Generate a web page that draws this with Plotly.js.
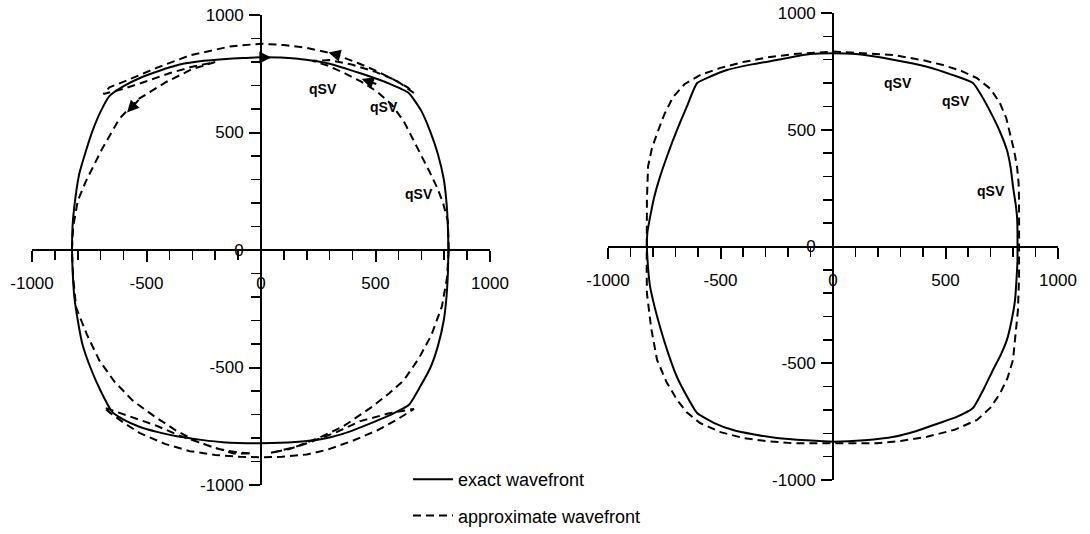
<!DOCTYPE html>
<html>
<head>
<meta charset="utf-8">
<script src="https://cdn.plot.ly/plotly-3.0.1.min.js"></script>
<style>html,body{margin:0;padding:0;background:#fff;}#chart{width:1090px;height:534px;}</style>
</head>
<body>
<div id="chart"></div>
<script>
// ---- data ----
const tickVals = [-1000, -500, 0, 500, 1000];
const tickText = ['-1000', '-500', '0', '500', '1000'];
const seriesNames = ['exact wavefront', 'approximate wavefront'];
const waveLabel = 'qSV';

// left panel: exact wavefront (solid)
const exactL_x = [0,150,289,434,560,645,700,740,772,798,810,816,818,
  816,810,798,772,740,697,645,560,478,380,289,150,0,
  -167,-260,-355,-450,-531,-600,-649,-700,-745,-780,-800,-815,-822,-825,
  -823,-816,-794,-765,-737,-700,-662,-600,-531,-440,-355,-250,-167,-80,0];
const exactL_y = [820,815,795,752,708,668,592,502,410,302,202,102,0,
  -100,-200,-300,-410,-500,-578,-660,-704,-738,-775,-800,-817,-822,
  -818,-808,-795,-775,-752,-722,-690,-600,-500,-400,-300,-200,-100,0,
  100,178,322,420,504,590,655,697,731,764,789,805,812,817,820];

// left panel: approximate wavefront (dashed), one closed path with swallowtails
const approxL_x = [820,816,795,770,735,697,660,624,570,507,440,360,290,225,
  300,400,500,590,668,
  640,580,509,420,316,200,100,0,
  -136,-311,-456,-580,-662,-688,
  -600,-500,-400,-300,-200,
  -300,-412,-539,-618,-693,-765,-800,-820,-826,
  -820,-807,-760,-706,-640,-561,-470,-368,-280,-193,-100,-40,
  -120,-237,-355,-456,-540,-605,-686,
  -660,-600,-531,-420,-311,-200,-92,0,
  92,200,289,400,509,600,668,
  560,434,330,215,120,40,
  150,259,360,478,560,623,690,745,790,812,820];
const approxL_y = [0,123,200,264,335,406,480,547,620,674,715,755,785,805,
  808,788,758,722,668,
  692,725,760,797,835,860,872,878,
  866,828,775,724,692,664,
  686,718,752,780,800,
  770,716,640,559,432,292,210,100,0,
  -120,-246,-360,-470,-560,-640,-705,-770,-815,-845,-862,-866,
  -866,-830,-790,-748,-720,-700,-670,
  -692,-735,-778,-825,-856,-872,-880,-882,
  -880,-870,-850,-812,-767,-718,-676,
  -695,-728,-775,-818,-848,-864,
  -838,-797,-750,-672,-610,-555,-460,-360,-240,-120,0];

// right panel: exact wavefront (solid)
const exactR_x = [0,102,267,418,533,622,670,711,745,773,790,800,812,818,820,820,
  820,815,809,793,773,745,711,670,622,550,467,371,271,140,0,
  -120,-249,-350,-444,-530,-604,-650,-693,-735,-769,-795,-813,-822,-827,
  -825,-813,-795,-769,-740,-711,-680,-645,-604,-540,-471,-360,-249,-102,0];
const exactR_y = [828,824,800,770,734,700,630,555,485,413,335,256,180,126,60,0,
  -58,-150,-230,-320,-400,-465,-529,-610,-692,-730,-758,-790,-815,-830,-836,
  -830,-820,-805,-786,-755,-713,-640,-560,-450,-344,-250,-172,-90,0,
  60,126,210,298,380,456,530,610,700,730,756,780,799,824,828];

// right panel: approximate wavefront (dashed)
const approxR_x = [0,173,267,400,489,570,640,700,742,770,787,805,818,825,827,828,827,827,
  827,827,822,812,800,775,742,700,640,540,418,300,196,0,
  -173,-300,-400,-500,-591,-650,-693,-740,-782,-808,-827,-828,-827,
  -828,-827,-822,-805,-782,-750,-711,-660,-591,-500,-400,-290,-173,0];
const approxR_y = [835,826,820,798,777,752,721,675,614,550,484,410,342,270,199,120,56,0,
  -60,-130,-272,-380,-486,-565,-630,-690,-743,-785,-815,-833,-843,-843,
  -843,-833,-820,-795,-756,-710,-657,-580,-486,-350,-200,-100,0,
  100,199,342,420,484,565,640,695,734,765,790,810,824,835];

// ---- figure ----
const FONT = 'Liberation Sans, Arial, Helvetica, sans-serif';
const black = '#000000';

const solidLine = {color: black, width: 2, shape: 'spline', smoothing: 0.5};
const dashLine = {color: black, width: 2, dash: '8px,5px'};

const traces = [
  {x: exactL_x, y: exactL_y, xaxis: 'x', yaxis: 'y', mode: 'lines', line: solidLine,
   name: seriesNames[0], legendgroup: 'g1', showlegend: true, hoverinfo: 'skip'},
  {x: approxL_x, y: approxL_y, xaxis: 'x', yaxis: 'y', mode: 'lines', line: dashLine,
   name: seriesNames[1], legendgroup: 'g2', showlegend: true, hoverinfo: 'skip'},
  {x: exactR_x, y: exactR_y, xaxis: 'x2', yaxis: 'y2', mode: 'lines', line: solidLine,
   name: seriesNames[0], legendgroup: 'g1', showlegend: false, hoverinfo: 'skip'},
  {x: approxR_x, y: approxR_y, xaxis: 'x2', yaxis: 'y2', mode: 'lines', line: dashLine,
   name: seriesNames[1], legendgroup: 'g2', showlegend: false, hoverinfo: 'skip'}
];

function axisBase(extra) {
  return Object.assign({
    range: [-1000, 1000], autorange: false, fixedrange: true,
    showgrid: false, zeroline: false,
    showline: true, linecolor: black, linewidth: 2,
    tickmode: 'array', tickvals: tickVals, ticktext: tickText,
    ticks: 'outside', ticklen: 11, tickwidth: 2, tickcolor: black,
    minor: {dtick: 100, tick0: 0, ticks: 'outside', ticklen: 9, tickwidth: 1.5, tickcolor: black, showgrid: false},
    tickfont: {family: FONT, size: 17, color: black},
    anchor: 'free'
  }, extra);
}

const W = 1090, H = 534;
const px = v => v / W, py = v => (H - v) / H;
const qFont = {family: FONT, size: 14, color: black};

const layout = {
  width: W, height: H,
  margin: {l: 0, r: 0, t: 0, b: 0},
  paper_bgcolor: '#ffffff', plot_bgcolor: 'rgba(0,0,0,0)',
  font: {family: FONT, color: black},
  xaxis: axisBase({domain: [px(32), px(490)], position: py(250), ticklabelstandoff: 7}),
  yaxis: axisBase({domain: [py(485), py(15)], position: px(261), ticklabelstandoff: 2}),
  xaxis2: axisBase({domain: [px(608), px(1058)], position: py(247), ticklabelstandoff: 7}),
  yaxis2: axisBase({domain: [py(480), py(13)], position: px(833), ticklabelstandoff: 2}),
  showlegend: true,
  legend: {
    x: px(408), y: py(461), xanchor: 'left', yanchor: 'top',
    font: {family: FONT, size: 18, color: black},
    bgcolor: 'rgba(0,0,0,0)', borderwidth: 0,
    traceorder: 'grouped', tracegroupgap: 10, itemwidth: 40
  },
  annotations: [
    {xref: 'x', yref: 'y', x: 272, y: 686, text: '<b>' + waveLabel + '</b>', showarrow: false, font: qFont},
    {xref: 'x', yref: 'y', x: 535, y: 610, text: '<b>' + waveLabel + '</b>', showarrow: false, font: qFont},
    {xref: 'x', yref: 'y', x: 689, y: 237, text: '<b>' + waveLabel + '</b>', showarrow: false, font: qFont},
    {xref: 'x2', yref: 'y2', x: 289, y: 702, text: '<b>' + waveLabel + '</b>', showarrow: false, font: qFont},
    {xref: 'x2', yref: 'y2', x: 547, y: 621, text: '<b>' + waveLabel + '</b>', showarrow: false, font: qFont},
    {xref: 'x2', yref: 'y2', x: 702, y: 236, text: '<b>' + waveLabel + '</b>', showarrow: false, font: qFont},
    // direction arrows along the wavefronts (left panel)
    {xref: 'x', yref: 'y', axref: 'x', ayref: 'y', x: 45, y: 819, ax: -10, ay: 819, text: '', showarrow: true, arrowhead: 2, arrowsize: 1.2, arrowwidth: 2, arrowcolor: black, standoff: 0},
    {xref: 'x', yref: 'y', axref: 'x', ayref: 'y', x: 295, y: 840, ax: 350, ay: 826, text: '', showarrow: true, arrowhead: 2, arrowsize: 1.2, arrowwidth: 2, arrowcolor: black, standoff: 0},
    {xref: 'x', yref: 'y', axref: 'x', ayref: 'y', x: 440, y: 728, ax: 510, ay: 704, text: '', showarrow: true, arrowhead: 2, arrowsize: 1.2, arrowwidth: 2, arrowcolor: black, standoff: 0},
    {xref: 'x', yref: 'y', axref: 'x', ayref: 'y', x: -585, y: 585, ax: -528, ay: 645, text: '', showarrow: true, arrowhead: 2, arrowsize: 1.2, arrowwidth: 2, arrowcolor: black, standoff: 0}
  ]
};

Plotly.newPlot('chart', traces, layout, {displayModeBar: false, staticPlot: true});
</script>
</body>
</html>
